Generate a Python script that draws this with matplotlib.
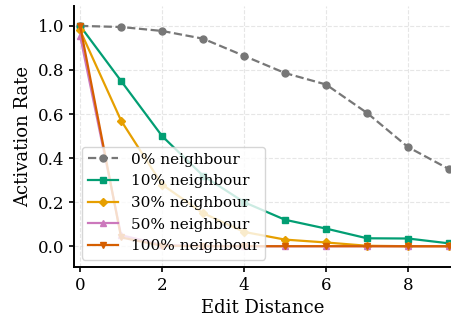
import numpy as np
import matplotlib
matplotlib.use('Agg')
import matplotlib.pyplot as plt

plt.rcParams['font.family'] = 'DejaVu Serif'

edit_distance = [0, 1, 2, 3, 4, 5, 6, 7, 8, 9]
rate_0 = [1.0, 0.995, 0.977, 0.942, 0.864, 0.786, 0.734, 0.605, 0.45, 0.35]
rate_10 = [1.0, 0.75, 0.50, 0.32, 0.20, 0.12, 0.08, 0.036, 0.035, 0.013]
rate_30 = [0.98, 0.57, 0.28, 0.15, 0.065, 0.03, 0.017, 0.002, 0.0, 0.0]
rate_50 = [0.955, 0.05, 0.006, 0.001, 0.0, 0.0, 0.0, 0.0, 0.0, 0.0]
rate_100 = [1.0, 0.04, 0.002, 0.0, 0.0, 0.0, 0.0, 0.0, 0.0, 0.0]

fig, ax = plt.subplots(figsize=(4.52, 3.25), dpi=100)
fig.subplots_adjust(left=0.164, right=1.0, bottom=0.178, top=0.982)

ax.plot(edit_distance, rate_0, '--o', color='#777777', lw=1.6, ms=5, label='0% neighbour')
ax.plot(edit_distance, rate_10, '-s', color='#029E73', lw=1.6, ms=5, label='10% neighbour')
ax.plot(edit_distance, rate_30, '-D', color='#E69F00', lw=1.6, ms=4.5, label='30% neighbour')
ax.plot(edit_distance, rate_50, '-^', color='#CC78BC', lw=1.6, ms=5, label='50% neighbour')
ax.plot(edit_distance, rate_100, '-v', color='#D55E00', lw=1.6, ms=5, label='100% neighbour')

ax.set_xlim(-0.146, 9.073)
ax.set_ylim(-0.095, 1.091)
ax.set_xticks([0, 2, 4, 6, 8])
ax.set_yticks([0.0, 0.2, 0.4, 0.6, 0.8, 1.0])
ax.set_xlabel('Edit Distance', fontsize=13)
ax.set_ylabel('Activation Rate', fontsize=13)
ax.tick_params(labelsize=12, width=1.2)
ax.grid(True, linestyle='--', color='#e6e6e6', lw=0.8)
for s in ['top', 'right']:
    ax.spines[s].set_visible(False)
for s in ['left', 'bottom']:
    ax.spines[s].set_linewidth(1.4)

ax.legend(loc='lower left', fontsize=11, framealpha=0.8, handlelength=2.0)

plt.savefig('out.png', dpi=100)
